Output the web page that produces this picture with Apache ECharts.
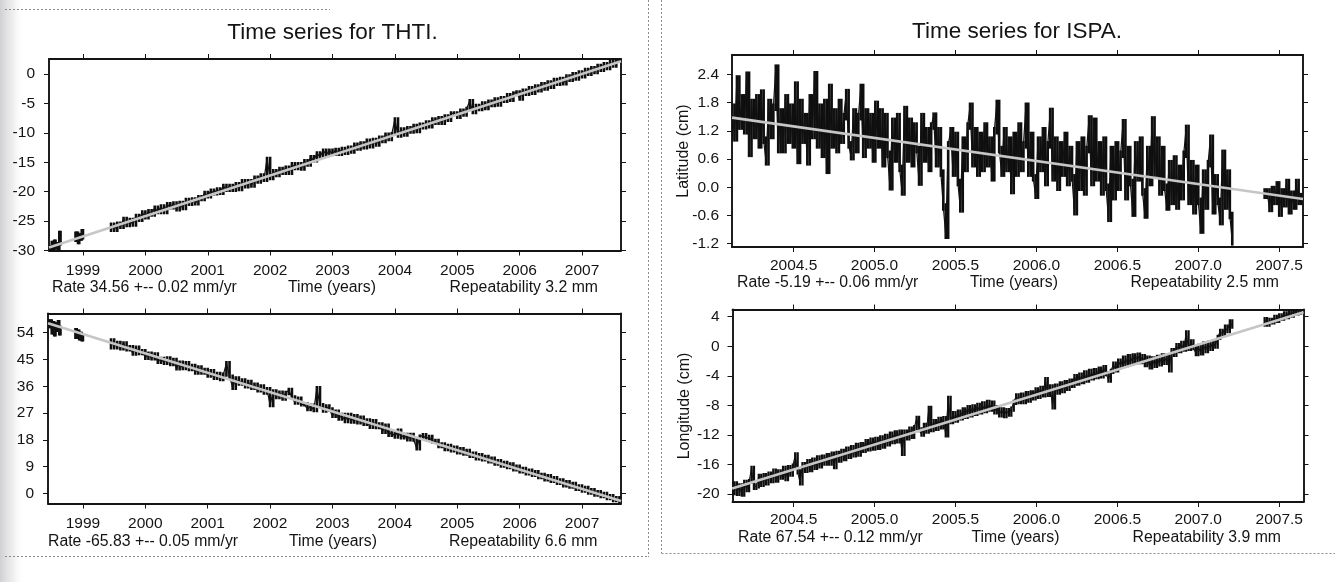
<!DOCTYPE html>
<html><head><meta charset="utf-8">
<script src="https://cdn.jsdelivr.net/npm/echarts@6/dist/echarts.min.js"></script>
<style>html,body{margin:0;padding:0;background:#fff;}#c{width:1335px;height:582px;}</style>
</head><body><div id="c"></div>
<script>
// ---------- tick labels ----------
const thtiYearTicks = [1999, 2000, 2001, 2002, 2003, 2004, 2005, 2006, 2007];
const thtiNorthTicks = [-30, -25, -20, -15, -10, -5, 0];
const thtiEastTicks = [0, 9, 18, 27, 36, 45, 54];
const ispaYearTicks = [2004.5, 2005.0, 2005.5, 2006.0, 2006.5, 2007.0, 2007.5];
const ispaLatTicks = [-1.2, -0.6, 0, 0.6, 1.2, 1.8, 2.4];
const ispaLonTicks = [-20, -16, -12, -8, -4, 0, 4];

// ---------- error-bar half lengths (cm) ----------
const thtiNorthSigma = 0.35;
const thtiEastSigma = 0.75;
const ispaLatSigma = 0.08;
const ispaLonSigma = 0.35;

// ---------- THTI north (cm): segments start/step + values ----------
const thtiNorthEarly1 = [-29.4, -29.9, -28.7, -29.6, -28.5, -29.5, -28.9, -29.8, -27.0, -28.8]; // from 1998.46 step 0.02
const thtiNorthEarly2 = [-28.2, -27.1, -28.6, -27.4, -28.0, -26.7, -27.8];                     // from 1998.88 step 0.02
const thtiNorthMain = [                                                                          // from 1999.45 step 0.05
  -25.6, -26.5, -25.4, -26.0, -24.6, -25.7, -24.8, -25.6, -24.1, -24.8,
  -23.5, -24.4, -23.3, -23.9, -22.7, -23.5, -22.5, -23.5, -22.1, -22.7,
  -22.0, -23.0, -21.9, -22.8, -21.4, -22.1, -21.3, -22.0, -20.9, -21.3,
  -20.2, -20.8, -19.8, -20.3, -19.6, -20.2, -19.0, -19.7, -19.0, -19.7,
  -18.7, -19.6, -18.2, -19.1, -18.2, -19.0, -17.6, -18.3, -17.2, -18.0,
  -14.4, -17.7, -16.5, -17.2, -16.1, -16.8, -15.9, -16.8, -15.3, -16.0,
  -15.3, -16.1, -14.8, -15.4, -14.1, -14.7, -13.5, -14.1, -13.0, -13.7,
  -13.0, -13.6, -12.9, -13.6, -12.7, -13.4, -12.5, -13.2, -12.0, -12.7,
  -11.8, -12.5, -11.3, -12.3, -11.2, -12.0, -10.8, -11.4, -10.3, -11.1,
  -10.2, -7.7, -10.5, -9.4, -10.3, -9.2, -9.8, -8.8, -9.7, -8.6,
  -9.1, -8.2, -8.9, -7.7, -8.3, -7.5, -8.3, -7.2, -7.8, -6.7,
  -6.7, -7.3, -6.2, -6.9, -5.9, -4.6, -6.5, -5.4, -6.0, -5.0,
  -5.8, -4.7, -5.3, -4.3, -5.2, -4.1, -4.6, -3.6, -4.4, -3.3,
  -3.1, -4.2, -2.8, -3.4, -2.4, -3.2, -2.1, -2.8, -1.7, -2.5,
  -1.4, -2.2, -1.0, -1.7, -0.8, -1.6, -0.4, -1.0, 0.0, -0.8,
  0.3, -0.4, 0.7, 0.0, 1.0, 0.3, 1.4, 0.7, 1.7, 1.0, 2.1, 1.4, 2.4, 2.3
];
const thtiNorthTrend = [[1998.455, -29.5], [2007.625, 2.17]];

// ---------- THTI east (cm) ----------
const thtiEastEarly1 = [56.2, 57.8, 54.1, 57.2, 53.5, 56.8, 55.0, 57.5, 53.8, 55.6]; // from 1998.46 step 0.02
const thtiEastEarly2 = [54.8, 52.6, 54.3, 52.1, 53.6, 51.8, 53.0];                     // from 1998.88 step 0.02
const thtiEastMain = [                                                                  // from 1999.45 step 0.05
  51.4, 49.1, 50.5, 48.8, 50.4, 48.4, 49.1, 47.0, 48.9, 47.2,
  47.8, 45.6, 46.9, 45.4, 46.7, 44.2, 45.2, 43.9, 45.3, 43.5,
  44.8, 42.0, 43.9, 42.1, 43.7, 41.8, 42.8, 40.6, 42.3, 40.6,
  41.5, 39.6, 41.0, 38.8, 40.1, 38.4, 39.9, 43.7, 39.2, 35.5,
  38.6, 36.9, 37.9, 36.0, 37.4, 35.5, 36.5, 34.6, 35.9, 33.9,
  35.0, 29.7, 34.2, 32.4, 33.8, 31.9, 33.7, 34.7, 32.2, 30.5,
  31.8, 29.9, 29.9, 28.3, 29.4, 28.0, 35.3, 29.6, 27.8, 29.2,
  28.2, 26.1, 27.4, 25.1, 26.3, 24.3, 26.3, 24.1, 25.9, 23.9,
  25.4, 23.4, 24.5, 22.4, 24.2, 22.3, 23.1, 20.7, 22.7, 19.7,
  20.5, 19.1, 21.0, 18.8, 19.6, 18.2, 19.6, 18.1, 15.1, 19.0,
  19.5, 18.4, 18.9, 17.4, 17.6, 15.9, 16.4, 14.9, 15.9, 14.5,
  15.3, 13.8, 14.8, 13.4, 14.2, 12.6, 13.3, 11.8, 12.8, 11.4,
  12.2, 10.8, 11.6, 10.0, 10.8, 9.3, 10.2, 8.8, 9.7, 8.1,
  8.9, 7.4, 8.2, 6.7, 7.6, 6.2, 7.1, 5.5, 6.2, 4.7,
  5.7, 4.2, 5.1, 3.5, 4.3, 2.7, 3.7, 2.3, 3.1, 1.5,
  2.3, 0.9, 1.8, 0.3, 1.0, -0.4, 0.4, -0.9, -0.2, -1.6, -1.0, -2.3, -1.7, -2.7
];
const thtiEastTrend = [[1998.44, 57.2], [2007.625, -2.6]];

// ---------- ISPA latitude (cm) ----------
const ispaLatMain = [                                                                   // from 2004.12 step 0.015
  1.7, 1.05, 2.3, 1.3, 1.9, 1.2, 2.38, 0.72, 1.8, 1.1,
  1.9, 0.9, 2.0, 1.0, 0.54, 1.8, 1.1, 1.7, 2.53, 0.8,
  1.6, 0.8, 1.9, 1.0, 1.7, 0.9, 2.17, 0.57, 1.8, 1.0,
  1.5, 0.54, 1.9, 1.1, 2.39, 0.9, 1.7, 0.7, 1.8, 0.36,
  2.12, 0.9, 1.6, 0.8, 1.8, 1.0, 1.5, 2.01, 0.9, 0.65,
  1.6, 0.8, 1.5, 2.12, 0.7, 1.6, 0.9, 1.5, 0.6, 1.76,
  0.9, 1.6, 0.5, 1.5, 0.7, 0.01, 1.4, 0.6, 1.5, 0.4,
  -0.1, 1.65, 0.6, 1.4, 0.5, 1.3, 0.8, 0.11, 1.5, 0.6,
  1.2, 0.4, 1.3, 1.51, 0.5, 1.2, 0.3, -0.42, -1.02, 0.9,
  1.2, 0.3, 1.1, 0.1, -0.46, 1.0, 0.4, 1.3, 1.72, 0.5,
  1.2, 0.3, 1.1, 0.4, 1.3, 0.5, 1.0, 0.2, 1.2, 1.78,
  0.8, 0.3, 1.2, 0.4, 1.0, -0.07, 1.1, 0.3, 1.3, 0.4,
  0.9, 1.72, 0.3, 1.1, 0.2, -0.17, 1.0, 0.4, 1.2, 0.1,
  0.9, 1.61, 0.2, 1.0, 0.0, 0.9, 0.3, 1.1, 0.1, 0.8,
  0.2, -0.52, 0.9, 0.0, 1.0, -0.1, 0.8, 1.45, 0.1, 1.4,
  0.2, 0.9, -0.1, 1.0, 0.0, -0.66, 0.8, -0.2, 0.9, 0.0,
  0.7, 1.37, -0.2, 0.8, 0.1, -0.55, 0.9, 0.2, 1.0, -0.1,
  -0.59, 0.8, 0.1, 1.43, 0.3, 1.0, -0.1, 0.8, 0.0, -0.42,
  0.5, -0.3, 0.6, -0.4, 0.4, -0.2, 0.7, 1.25, -0.3, 0.5,
  -0.5, 0.4, -0.3, -0.91, 0.3, -0.4, 0.5, 1.04, -0.5, 0.2,
  -0.3, -0.73, 0.72, -0.4, 0.3, -0.6, -1.16
];
const ispaLatTail = [-0.17, -0.1, -0.45, -0.05, -0.3, 0.05, -0.55, -0.1, -0.35, 0.1, -0.5, -0.15, -0.4, 0.1, -0.3, -0.2]; // from 2007.41 step 0.015
const ispaLatTrend = [[2004.12, 1.48], [2007.647, -0.25]];

// ---------- ISPA longitude (cm) ----------
const ispaLonMain = [                                                                   // from 2004.12 step 0.015
  -19.8, -18.6, -19.9, -18.9, -20.0, -18.4, -19.4, -18.3, -16.5, -19.1,
  -18.9, -17.6, -18.7, -17.5, -18.5, -17.3, -18.2, -16.9, -18.1, -17.0,
  -17.7, -16.5, -17.9, -16.4, -17.3, -16.2, -14.7, -17.0, -18.5, -16.0,
  -16.8, -15.6, -16.7, -15.4, -16.4, -15.1, -16.2, -15.0, -15.8, -14.8,
  -15.8, -14.6, -16.3, -14.5, -15.4, -14.2, -15.2, -13.9, -14.9, -13.7,
  -14.7, -13.4, -14.6, -13.3, -14.1, -12.9, -13.9, -12.7, -13.8, -12.6,
  -13.7, -12.4, -13.5, -12.2, -13.2, -11.9, -12.9, -11.7, -12.8, -11.6,
  -14.5, -11.6, -12.4, -11.2, -12.2, -11.0, -9.75, -11.3, -11.9, -10.7,
  -11.5, -8.4, -11.3, -10.2, -11.1, -9.9, -10.9, -9.8, -12.0, -7.05,
  -10.2, -9.1, -10.0, -8.9, -9.7, -8.6, -9.5, -8.3, -9.3, -8.2,
  -9.1, -8.0, -8.9, -7.8, -8.7, -7.6, -8.5, -7.7, -8.9, -8.3,
  -9.3, -8.6, -9.4, -8.7, -9.2, -8.5, -7.6, -6.7, -7.5, -6.6,
  -7.5, -6.4, -7.3, -6.3, -7.0, -5.9, -6.8, -5.7, -6.6, -4.5,
  -6.5, -5.5, -8.2, -5.4, -6.2, -5.1, -6.0, -4.9, -5.7, -4.7,
  -5.3, -4.1, -5.0, -3.9, -4.8, -3.6, -4.6, -3.4, -4.3, -3.3,
  -4.1, -3.1, -4.0, -2.9, -3.7, -4.6, -3.4, -2.4, -3.2, -2.0,
  -2.6, -1.6, -2.5, -1.4, -2.3, -1.3, -2.1, -1.2, -2.1, -1.4,
  -2.5, -1.6, -2.8, -1.7, -2.6, -1.5, -2.4, -1.3, -2.2, -1.4,
  -3.2, -0.6, -1.1, 0.1, -0.6, 0.4, -0.4, 1.8, -0.3, 0.6,
  -0.2, -1.0, 0.0, -0.9, 0.3, -0.6, 0.4, -0.3, 0.6, 0.0,
  1.2, 2.0, 1.6, 2.6, 2.1, 3.3, 2.7
];
const ispaLonTail = [3.6, 3.0, 3.5, 3.3, 3.9, 3.5, 4.1, 3.8, 4.4, 4.0, 4.7, 4.2, 4.9, 4.5, 5.0, 4.6]; // from 2007.41 step 0.015
const ispaLonTrend = [[2004.12, -19.23], [2007.65, 4.61]];

// ---------- build ----------
const FONT = '"Liberation Sans", Arial, Helvetica, sans-serif';
const INK = '#141414';
function seg(start, step, vals) {
  return vals.map((v, i) => [Math.round((start + i * step) * 10000) / 10000, v]);
}

const panels = [
  { grid: {left: 49, top: 59, width: 572, height: 191.5},
    x: [1998.455, 2007.625], y: [-30, 2.55], xt: thtiYearTicks, yt: thtiNorthTicks,
    xf: v => String(v), yf: v => String(v), xm: 12, ym: 14, sigma: thtiNorthSigma,
    segs: [seg(1998.46, 0.02, thtiNorthEarly1), seg(1998.88, 0.02, thtiNorthEarly2), seg(1999.45, 0.05, thtiNorthMain)],
    trend: thtiNorthTrend, lw: 1.2, bw: 2.6 },
  { grid: {left: 48, top: 313.5, width: 573, height: 190},
    x: [1998.44, 2007.625], y: [-3.43, 60.45], xt: thtiYearTicks, yt: thtiEastTicks,
    xf: v => String(v), yf: v => String(v), xm: 12, ym: 14, sigma: thtiEastSigma,
    segs: [seg(1998.46, 0.02, thtiEastEarly1), seg(1998.88, 0.02, thtiEastEarly2), seg(1999.45, 0.05, thtiEastMain)],
    trend: thtiEastTrend, lw: 1.2, bw: 2.6 },
  { grid: {left: 732, top: 55, width: 571, height: 192},
    x: [2004.1195, 2007.647], y: [-1.27, 2.81], xt: ispaYearTicks, yt: ispaLatTicks,
    xf: v => v.toFixed(1), yf: v => v.toFixed(1), xm: 11, ym: 13, sigma: ispaLatSigma,
    segs: [seg(2004.12, 0.015, ispaLatMain), seg(2007.41, 0.015, ispaLatTail)],
    trend: ispaLatTrend, lw: 1.2, bw: 2.6 },
  { grid: {left: 732.5, top: 309.5, width: 571, height: 192.5},
    x: [2004.1225, 2007.65], y: [-21.07, 4.97], xt: ispaYearTicks, yt: ispaLonTicks,
    xf: v => v.toFixed(1), yf: v => String(v), xm: 10, ym: 13, sigma: ispaLonSigma,
    segs: [seg(2004.12, 0.015, ispaLonMain), seg(2007.41, 0.015, ispaLonTail)],
    trend: ispaLonTrend, lw: 1.0, bw: 2.3 }
];

// vertical stroke (error bar) at each sample, joined to the neighbouring sample's value
function strokeRenderer(bw, sigma) {
  return function (params, api) {
    const i = params.dataIndexInside;
    const n = params.dataInsideLength;
    const j = i > 0 ? i - 1 : Math.min(1, n - 1);
    const t = api.value(0);
    const v1 = api.value(1), v2 = api.value(1, j);
    const a = api.coord([t, Math.max(v1, v2) + sigma]);
    const b = api.coord([t, Math.min(v1, v2) - sigma]);
    return {type: 'line', shape: {x1: a[0], y1: a[1], x2: a[0], y2: b[1]},
            style: {stroke: '#0e0e0e', lineWidth: bw}};
  };
}

const grid = [], xAxis = [], yAxis = [], series = [];
const axisLine = {show: true, onZero: false, lineStyle: {color: INK, width: 1.9}};
panels.forEach((p, k) => {
  grid.push(Object.assign({containLabel: false}, p.grid));
  ['bottom', 'top'].forEach(pos => xAxis.push({
    gridIndex: k, type: 'value', position: pos, min: p.x[0], max: p.x[1],
    axisLine, splitLine: {show: false}, minorTick: {show: false},
    axisTick: {show: true, inside: false, length: 5, customValues: p.xt, lineStyle: {color: INK, width: 1}},
    axisLabel: {show: pos === 'bottom', customValues: p.xt, formatter: p.xf, margin: p.xm,
                fontSize: 15.5, color: INK, fontFamily: FONT}
  }));
  ['left', 'right'].forEach(pos => yAxis.push({
    gridIndex: k, type: 'value', position: pos, min: p.y[0], max: p.y[1],
    axisLine, splitLine: {show: false}, minorTick: {show: false},
    axisTick: {show: true, inside: false, length: 5, customValues: p.yt, lineStyle: {color: INK, width: 1}},
    axisLabel: {show: pos === 'left', customValues: p.yt, formatter: p.yf, margin: p.ym,
                fontSize: 15.5, color: INK, fontFamily: FONT}
  }));
  p.segs.forEach(d => {
    series.push({
      type: 'line', xAxisIndex: 2 * k, yAxisIndex: 2 * k, data: d, symbol: 'none', showSymbol: false,
      lineStyle: {color: '#121212', width: p.lw}, silent: true, z: 2, animation: false
    });
    series.push({
      type: 'custom', xAxisIndex: 2 * k, yAxisIndex: 2 * k, data: d, encode: {x: 0, y: 1},
      renderItem: strokeRenderer(p.bw, p.sigma), clip: true, silent: true, z: 2, animation: false
    });
  });
  series.push({
    type: 'line', xAxisIndex: 2 * k, yAxisIndex: 2 * k, data: p.trend, symbol: 'none',
    lineStyle: {color: '#c6c6c6', width: 2.6}, silent: true, z: 3, animation: false
  });
});

function txt(x, y, s, size, align, extra) {
  return Object.assign({type: 'text', x, y, silent: true, z: 10,
    style: {text: s, fontSize: size, fontFamily: FONT, fill: INK,
            align, textAlign: align, verticalAlign: 'middle', textVerticalAlign: 'middle'}}, extra || {});
}
function dline(x1, y1, x2, y2) {
  return {type: 'line', silent: true, z: 0, shape: {x1, y1, x2, y2},
          style: {stroke: '#8c8c8c', lineWidth: 1, lineDash: [2, 2]}};
}

const graphic = [
  {type: 'rect', silent: true, z: -1, shape: {x: 0, y: 0, width: 24, height: 582},
   style: {fill: new echarts.graphic.LinearGradient(0, 0, 1, 0,
     [{offset: 0, color: 'rgba(205,205,208,0.95)'}, {offset: 0.55, color: 'rgba(228,228,230,0.6)'}, {offset: 1, color: 'rgba(255,255,255,0)'}])}},
  dline(5, 9.5, 330, 9.5),
  dline(648.5, 0, 648.5, 557),
  dline(5, 556.5, 648.5, 556.5),
  dline(661.5, 0, 661.5, 553),
  dline(661.5, 553.5, 1335, 553.5),
  txt(332.5, 33, 'Time series for THTI.', 22.5, 'center'),
  txt(1017, 31.5, 'Time series for ISPA.', 22.5, 'center'),
  txt(52, 288, 'Rate 34.56 +-- 0.02 mm/yr', 15.8, 'left'),
  txt(332, 288, 'Time (years)', 15.8, 'center'),
  txt(598, 288, 'Repeatability 3.2 mm', 15.8, 'right'),
  txt(48, 542, 'Rate -65.83 +-- 0.05 mm/yr', 15.8, 'left'),
  txt(333, 542, 'Time (years)', 15.8, 'center'),
  txt(597.5, 542, 'Repeatability 6.6 mm', 15.8, 'right'),
  txt(737, 283, 'Rate -5.19 +-- 0.06 mm/yr', 15.8, 'left'),
  txt(1014, 283, 'Time (years)', 15.8, 'center'),
  txt(1279, 283, 'Repeatability 2.5 mm', 15.8, 'right'),
  txt(738, 537.5, 'Rate 67.54 +-- 0.12 mm/yr', 15.8, 'left'),
  txt(1015.5, 537.5, 'Time (years)', 15.8, 'center'),
  txt(1281, 537.5, 'Repeatability 3.9 mm', 15.8, 'right'),
  txt(684, 151, 'Latitude (cm)', 16, 'center', {rotation: Math.PI / 2}),
  txt(685, 406, 'Longitude (cm)', 16, 'center', {rotation: Math.PI / 2})
];

const chart = echarts.init(document.getElementById('c'), null, {renderer: 'canvas', width: 1335, height: 582});
chart.setOption({
  backgroundColor: '#ffffff',
  animation: false,
  grid, xAxis, yAxis, series, graphic
});
</script>
</body></html>
